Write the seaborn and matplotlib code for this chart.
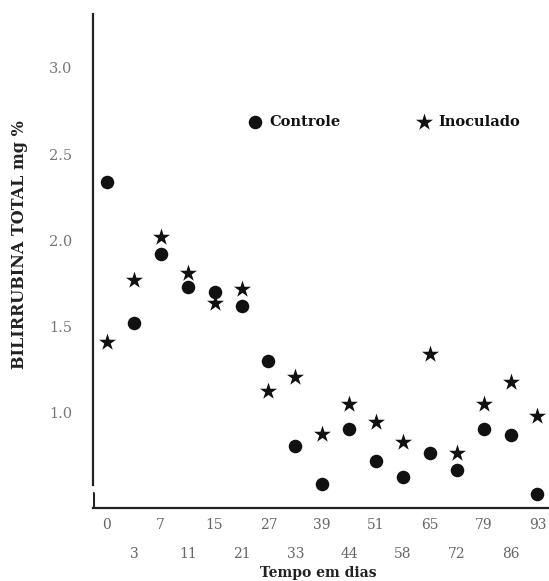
import matplotlib
matplotlib.use("Agg")
import matplotlib.pyplot as plt
import seaborn as sns
import pandas as pd

days = [0, 3, 7, 11, 15, 21, 27, 33, 39, 44, 51, 58, 65, 72, 79, 86, 93]
controle = [2.34, 1.52, 1.92, 1.73, 1.70, 1.62, 1.30, 0.81, 0.59, 0.91, 0.72,
            0.63, 0.77, 0.67, 0.91, 0.87, 0.53]
inoculado = [1.41, 1.77, 2.02, 1.81, 1.64, 1.72, 1.13, 1.21, 0.88, 1.05, 0.95,
             0.83, 1.34, 0.77, 1.05, 1.18, 0.98]
yticks = [1.0, 1.5, 2.0, 2.5, 3.0]

sns.set_theme(style="white")
plt.rcParams["font.family"] = ["DejaVu Serif"]

day_labels = [str(d) for d in days]
df_c = pd.DataFrame({"dia": day_labels, "valor": controle})
df_i = pd.DataFrame({"dia": day_labels, "valor": inoculado})

fig = plt.figure(figsize=(5.49, 5.81), dpi=100)
ax = fig.add_axes([0.1694, 0.1256, 0.8306, 0.8503])

sns.scatterplot(data=df_c, x="dia", y="valor", marker="o", s=95,
                color="#111111", edgecolor="#111111", linewidth=0,
                label="Controle", ax=ax)
sns.scatterplot(data=df_i, x="dia", y="valor", marker="*", s=165,
                color="#111111", edgecolor="#111111", linewidth=0,
                label="Inoculado", ax=ax)

ax.set_xlim(-0.52, 16.43)
ax.set_ylim(0.449, 3.313)

# two-row x tick labels
even = list(range(0, len(days), 2))
odd = list(range(1, len(days), 2))
ax.set_xticks(even)
ax.set_xticklabels([day_labels[i] for i in even])
ax.set_xticks(odd, minor=True)
ax.set_xticklabels([day_labels[i] for i in odd], minor=True)
ax.tick_params(axis="x", which="major", length=0, pad=7, labelsize=10,
               labelcolor="#666666")
ax.tick_params(axis="x", which="minor", length=0, pad=28, labelsize=10,
               labelcolor="#666666")

ax.set_yticks(yticks)
ax.set_yticklabels([f"{v:.1f}" for v in yticks])
ax.tick_params(axis="y", length=0, pad=15, labelsize=10.5, labelcolor="#777777")

for side in ["top", "right"]:
    ax.spines[side].set_visible(False)
for side in ["left", "bottom"]:
    ax.spines[side].set_color("#222222")
    ax.spines[side].set_linewidth(1.6)
ax.spines["left"].set_bounds(0.583, 3.313)
ax.axvline(-0.52, ymin=0, ymax=0.03, color="#222222", linewidth=2.2)

ax.set_xlabel("Tempo em dias", fontsize=10, fontweight="bold", color="#222222")
ax.xaxis.set_label_coords(0.494, -0.1175)
ax.set_ylabel("BILIRRUBINA TOTAL mg %", fontsize=11.5, fontweight="bold",
              color="#222222")
ax.yaxis.set_label_coords(-0.1425, 0.534)

leg = ax.legend(loc="center", bbox_to_anchor=(0.701, 0.79),
                bbox_transform=fig.transFigure, ncol=2, frameon=False,
                columnspacing=5.35, handletextpad=0.55, handlelength=0.8,
                prop={"family": "DejaVu Serif", "weight": "bold",
                      "size": 10.5})
for t in leg.get_texts():
    t.set_color("#111111")

fig.savefig("out.png", dpi=100, facecolor="white")
